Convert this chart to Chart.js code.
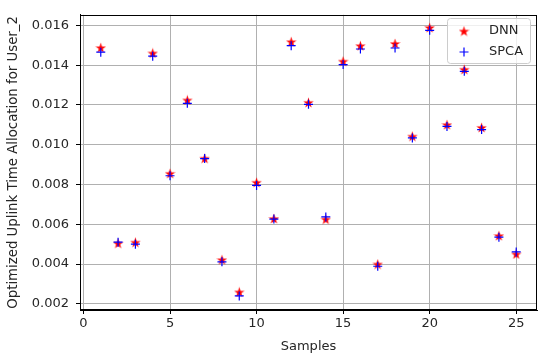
<!DOCTYPE html>
<html>
<head>
<meta charset="utf-8">
<script src="https://cdn.jsdelivr.net/npm/chart.js@4.4.0/dist/chart.umd.min.js"></script>
<style>
  html, body { margin: 0; padding: 0; background: #fff; }
  #wrap { width: 550px; height: 358px; }
</style>
</head>
<body>
<div id="wrap"><canvas id="chart" width="550" height="358"></canvas></div>
<script>
const samples = [1, 2, 3, 4, 5, 6, 7, 8, 9, 10, 11, 12, 13, 14, 15, 16, 17, 18, 19, 20, 21, 22, 23, 24, 25];
const dnn = [0.01488, 0.00505, 0.0051, 0.01461, 0.00856, 0.01225, 0.00932, 0.00422, 0.0026, 0.00811,
             0.00629, 0.01518, 0.01213, 0.00626, 0.0142, 0.01498, 0.0040, 0.01509, 0.01043, 0.01589,
             0.01101, 0.01379, 0.01087, 0.00543, 0.00451];
const spca = [0.01465, 0.0051, 0.0050, 0.01445, 0.00844, 0.01208, 0.0093, 0.00411, 0.0024, 0.00795,
              0.00626, 0.01498, 0.01203, 0.00637, 0.01403, 0.01481, 0.00389, 0.01486, 0.01034, 0.01575,
              0.01092, 0.01369, 0.01076, 0.00535, 0.00461];
const xTicks = [0, 5, 10, 15, 20, 25];
const yTicks = [0.002, 0.004, 0.006, 0.008, 0.010, 0.012, 0.014, 0.016];

const FONT = 'DejaVu Sans';
const TXT = '#262626';
const FS = 13;

// matplotlib-like filled 5-point star marker
function makeStar(size, color) {
    const c = document.createElement('canvas');
    c.width = size; c.height = size;
    const g = c.getContext('2d');
    const r = size / 2, ri = r * 0.382;
    g.fillStyle = color;
    g.beginPath();
    for (let i = 0; i < 10; i++) {
        const rad = i % 2 ? ri : r;
        const a = -Math.PI / 2 + i * Math.PI / 5;
        const px = r + rad * Math.cos(a), py = r + 0.6 + rad * Math.sin(a);
        i ? g.lineTo(px, py) : g.moveTo(px, py);
    }
    g.closePath();
    g.fill();
    return c;
}
const starImg = makeStar(11, '#ff0000');

const legendItems = [
    { label: 'DNN', kind: 'star' },
    { label: 'SPCA', kind: 'plus' },
];

// frame around plot + legend inside the top right
const framePlugin = {
    id: 'frame',
    afterDatasetsDraw(chart) {
        const { ctx, chartArea: a } = chart;
        ctx.save();
        ctx.strokeStyle = '#000';
        ctx.lineWidth = 1;
        ctx.strokeRect(Math.round(a.left) + 0.5, Math.round(a.top) + 0.5,
            Math.round(a.right - a.left) - 1, Math.round(a.bottom - a.top) - 1);

        // legend
        const bx = 447, by = 18, bw = 83, bh = 45;
        ctx.fillStyle = 'rgba(255,255,255,0.8)';
        ctx.strokeStyle = '#cccccc';
        ctx.beginPath();
        ctx.roundRect(bx + 0.5, by + 0.5, bw, bh, 3);
        ctx.fill();
        ctx.stroke();
        ctx.font = FS + 'px "' + FONT + '"';
        ctx.fillStyle = TXT;
        ctx.textBaseline = 'middle';
        legendItems.forEach((it, i) => {
            const y = by + 13 + i * 21;
            const mx = 464;
            if (it.kind === 'star') {
                ctx.drawImage(starImg, mx - 5.5, y - 5.5);
            } else {
                ctx.strokeStyle = '#0000ff';
                ctx.lineWidth = 1.2;
                ctx.beginPath();
                ctx.moveTo(mx - 4.5, y); ctx.lineTo(mx + 4.5, y);
                ctx.moveTo(mx, y - 4.5); ctx.lineTo(mx, y + 4.5);
                ctx.stroke();
            }
            ctx.fillText(it.label, 489, y);
        });
        ctx.restore();
    }
};

new Chart(document.getElementById('chart'), {
    type: 'scatter',
    data: {
        datasets: [
            {
                label: 'DNN',
                data: samples.map((s, i) => ({ x: s, y: dnn[i] })),
                pointStyle: starImg,
                order: 1,
            },
            {
                label: 'SPCA',
                data: samples.map((s, i) => ({ x: s, y: spca[i] })),
                pointStyle: 'cross',
                pointRadius: 4.5,
                borderColor: '#0000ff',
                backgroundColor: '#0000ff',
                borderWidth: 1.2,
                order: 0,
            },
        ]
    },
    options: {
        responsive: false,
        animation: false,
        layout: { padding: { top: 12, right: 13, left: 0, bottom: 0 } },
        plugins: {
            legend: { display: false },
            tooltip: { enabled: false },
        },
        scales: {
            x: {
                type: 'linear',
                min: -0.2,
                max: 26.2,
                afterBuildTicks: s => { s.ticks = xTicks.map(v => ({ value: v })); },
                afterFit: s => { s.height = 48; },
                ticks: { color: TXT, font: { family: FONT, size: FS }, padding: 2, maxRotation: 0 },
                grid: { color: '#b0b0b0', lineWidth: 1, tickLength: 4, tickColor: '#000' },
                border: { color: '#000' },
                title: { display: true, text: 'Samples', color: TXT, font: { family: FONT, size: FS }, padding: { top: 0 } },
            },
            y: {
                min: 0.00169,
                max: 0.01653,
                afterBuildTicks: s => { s.ticks = yTicks.map(v => ({ value: v })); },
                afterFit: s => { s.width = 80; },
                ticks: { color: TXT, font: { family: FONT, size: FS }, padding: 7, callback: v => v.toFixed(3) },
                grid: { color: '#b0b0b0', lineWidth: 1, tickLength: 4, tickColor: '#000' },
                border: { color: '#000' },
                title: { display: true, text: 'Optimized Uplink Time Allocation for User_2', color: TXT, font: { family: FONT, size: 13.3 }, padding: { top: 6, bottom: 4 } },
            }
        }
    },
    plugins: [framePlugin]
});
</script>
</body>
</html>
